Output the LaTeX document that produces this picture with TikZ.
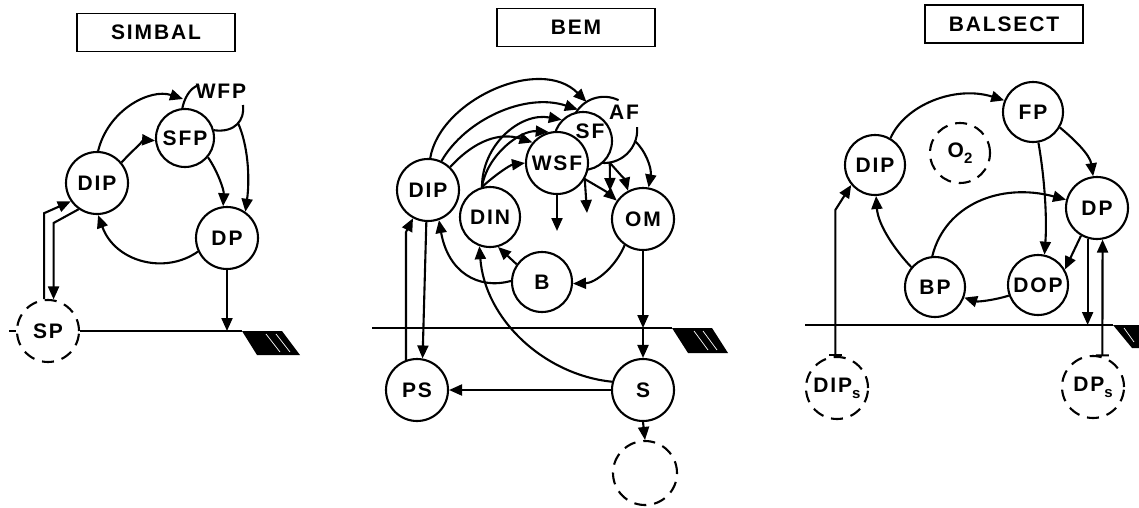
\documentclass[tikz,border=0pt]{standalone}
\usepackage{fontspec}
\setmainfont{Liberation Sans}
\newfontfamily\diagfam{Liberation Sans}[LetterSpace=9]
\newcommand{\diaglbl}{\diagfam\bfseries\fontsize{21}{24}\selectfont}
\newcommand{\sbx}[1]{\raisebox{-6pt}{\fontsize{15}{15}\selectfont #1}}
\usetikzlibrary{arrows.meta}
\begin{document}
\begin{tikzpicture}[x=1pt,y=-1pt,
  pool/.style={circle,draw,line width=2.1pt,minimum size=62pt,inner sep=0pt,fill=white,font=\diaglbl},
  dpool/.style={pool,dash pattern=on 12pt off 8pt},
  ttl/.style={draw,line width=1.8pt,minimum width=158pt,minimum height=38pt,inner sep=0pt,font=\diaglbl},
  lab/.style={inner sep=0pt,font=\diaglbl},
  wire/.style={line width=2.1pt},
  flow/.style={line width=2.1pt,-{Triangle[length=13pt,width=11pt]}},
  barflow/.style={line width=2.1pt,{Bar[width=13pt]}-{Triangle[length=13pt,width=11pt]}},
  hatchfill/.style={fill=black},
  hatchline/.style={draw=white,line width=0.7pt}
]
\useasboundingbox (0,0) rectangle (1139,507);

% ================= SIMBAL =================
\node[ttl] (T1) at (156,32.5) {SIMBAL};
\node[pool] (DIP1) at (97,183) {DIP};
\node[pool,minimum size=58pt] (SFP1) at (185,138) {SFP};
\node[pool] (DP1) at (227,238) {DP};
\node[dpool] (SP1) at (48,331) {SP};
\node[lab] (WFP1) at (221,91) {WFP};
\coordinate (g1) at (0,331);
\coordinate (k1) at (0,223);
\coordinate (wfpL) at (199,85);
\coordinate (wfpR) at (243,105);
\coordinate (wfpin) at (183,99);
\coordinate (wfpB) at (238,123);
\coordinate (sptick) at (9,331);
\coordinate (h1) at (242,331);

\draw[wire] (SFP1.95) .. controls (184,100) and (189,88) .. (wfpL);
\draw[wire] (wfpR) .. controls (245,120) and (235,133) .. (SFP1.15);
\draw[flow] (wfpB) .. controls (248,145) and (250,178) .. (DP1.55);
\draw[flow] (DIP1.88) .. controls (108,110) and (150,88) .. (wfpin);
\draw[flow] (DIP1.40) .. controls (133,150) and (145,140) .. (SFP1.185);
\draw[flow] (SFP1.-40) .. controls (218,172) and (224,190) .. (DP1.97);
\draw[flow] (DP1.205) .. controls (165,275) and (115,262) .. (DIP1.-88);
\draw[flow] (SP1.97) -- ++(0,-86) -- (DIP1.215);
\draw[flow] (DIP1.235) -- (SP1.80 |- k1) -- (SP1.80);
\draw[wire] (SP1.west) -- (sptick);
\draw[wire] (SP1.east) -- (h1);
\draw[flow] (DP1.south) -- (DP1.south |- g1);
\fill[hatchfill] (242,331) -- (282,331) -- (300,355) -- (257,355) -- cycle;
\draw[hatchline] (266,334) -- (280,352);
\draw[hatchline] (276,334) -- (290,352);

% ================= BEM =================
\node[ttl] (T2) at (576,27.5) {BEM};
\node[circle,minimum size=66pt,inner sep=0pt] (AF2) at (604,130) {};
\draw[wire] (AF2.64) arc[start angle=64,end angle=200,radius=33pt];
\draw[wire] (AF2.5) arc[start angle=5,end angle=-100,radius=33pt];
\node[pool,minimum size=58pt] (SF2) at (583,141) {};
\node[lab] (SFl) at (590,131) {SF};
\node[lab] (AFl) at (624,112) {AF};
\node[pool] (WSF2) at (557,163) {WSF};
\node[pool] (DIP2) at (428,190) {DIP};
\node[pool,minimum size=60pt] (DIN2) at (490,217) {DIN};
\node[pool] (OM2) at (643,219) {OM};
\node[pool,minimum size=60pt] (B2) at (542,282) {B};
\node[pool] (PS2) at (417,390) {PS};
\node[pool] (S2) at (643,390) {S};
\node[dpool,minimum size=64pt] (X2) at (645,473) {};
\coordinate (g2) at (0,328);
\coordinate (gL2) at (372,328);
\coordinate (h2) at (672,328);
\coordinate (fw1) at (557,231);
\coordinate (fw2) at (587,213);
\coordinate (fw3) at (610,191);
\coordinate (k2) at (0,232);

\draw[flow] (DIP2.86) .. controls (440,100) and (540,55) .. (AF2.122);
\draw[flow] (DIP2.65) .. controls (465,120) and (525,92) .. (AF2.142);
\draw[flow] (DIP2.46) .. controls (475,140) and (500,132) .. (WSF2.140);
\draw[flow] (DIN2.105) .. controls (482,145) and (520,112) .. (SF2.135);
\draw[flow] (DIN2.105) .. controls (487,155) and (520,130) .. (WSF2.105);
\draw[flow] (DIN2.105) .. controls (495,175) and (510,165) .. (WSF2.180);
\draw[flow] (AF2.-80) -- (fw3);
\draw[flow] (AF2.-80) .. controls (618,172) and (625,180) .. (OM2.118);
\draw[flow] (AF2.-20) .. controls (645,150) and (652,168) .. (OM2.80);
\draw[flow] (WSF2.-90) -- (fw1);
\draw[flow] (WSF2.-30) -- (fw2);
\draw[flow] (WSF2.-30) .. controls (595,185) and (607,192) .. (OM2.145);
\draw[flow] (OM2.-125) .. controls (615,268) and (595,283) .. (B2.-3);
\draw[flow] (OM2.south) -- (OM2.south |- g2);
\draw[flow] (OM2.south |- g2) -- (S2.north);
\draw[wire] (gL2) -- (h2);
\fill[hatchfill] (672,328) -- (712,328) -- (728,353) -- (688,353) -- cycle;
\draw[hatchline] (694,331) -- (708,350);
\draw[hatchline] (703,331) -- (717,350);
\draw[flow] (S2.south) -- (X2.north);
\draw[flow] (S2.west) -- (PS2.east);
\draw[flow] (S2.165) .. controls (545,375) and (485,320) .. (DIN2.-110);
\draw[flow] (B2.145) -- (DIN2.-75);
\draw[flow] (B2.178) .. controls (478,290) and (448,272) .. (DIP2.-70);
\draw[flow] (PS2.110) -- (PS2.110 |- k2) -- (DIP2.-118);
\draw[flow] (DIP2.-93) -- (PS2.80);

% ================= BALSECT =================
\node[ttl] (T3) at (1004,24) {BALSECT};
\node[pool,minimum size=60pt] (DIP3) at (875,165) {DIP};
\node[pool,minimum size=60pt] (FP3) at (1033,112) {FP};
\node[dpool,minimum size=60pt] (O23) at (960,153) {O\sbx{2}};
\node[pool] (DP3) at (1097,208) {DP};
\node[pool,minimum size=60pt] (BP3) at (935,287) {BP};
\node[pool,minimum size=60pt] (DOP3) at (1038,285) {DOP};
\node[dpool] (DIPs3) at (837,388) {DIP\sbx{s}};
\node[dpool] (DPs3) at (1093,387) {DP\sbx{s}};
\coordinate (g3) at (0,325);
\coordinate (gL3) at (805,325);
\coordinate (h3) at (1113,325);
\coordinate (k3) at (0,210);

\draw[flow] (DIP3.60) .. controls (905,105) and (955,85) .. (FP3.158);
\draw[flow] (FP3.-30) .. controls (1075,140) and (1090,155) .. (DP3.97);
\draw[flow] (FP3.-80) .. controls (1045,180) and (1047,220) .. (DOP3.78);
\draw[flow] (BP3.95) .. controls (945,205) and (1000,182) .. (DP3.165);
\draw[flow] (DP3.-120) -- (DOP3.30);
\draw[flow] (DOP3.200) .. controls (995,300) and (978,302) .. (BP3.-20);
\draw[flow] (BP3.140) .. controls (895,250) and (878,225) .. (DIP3.-88);
\draw[barflow] (DIPs3.93) -- (DIPs3.93 |- k3) -- (DIP3.-140);
\draw[barflow] (DPs3.73) -- (DP3.-80);
\draw[flow] (DP3.-107) -- (DP3.-107 |- g3);
\draw[wire] (gL3) -- (h3);
\fill[hatchfill] (1113,325) -- (1139,325) -- (1139,348) -- (1132,348) -- cycle;
\draw[hatchline] (1124,328) -- (1134,342);
\end{tikzpicture}
\end{document}
